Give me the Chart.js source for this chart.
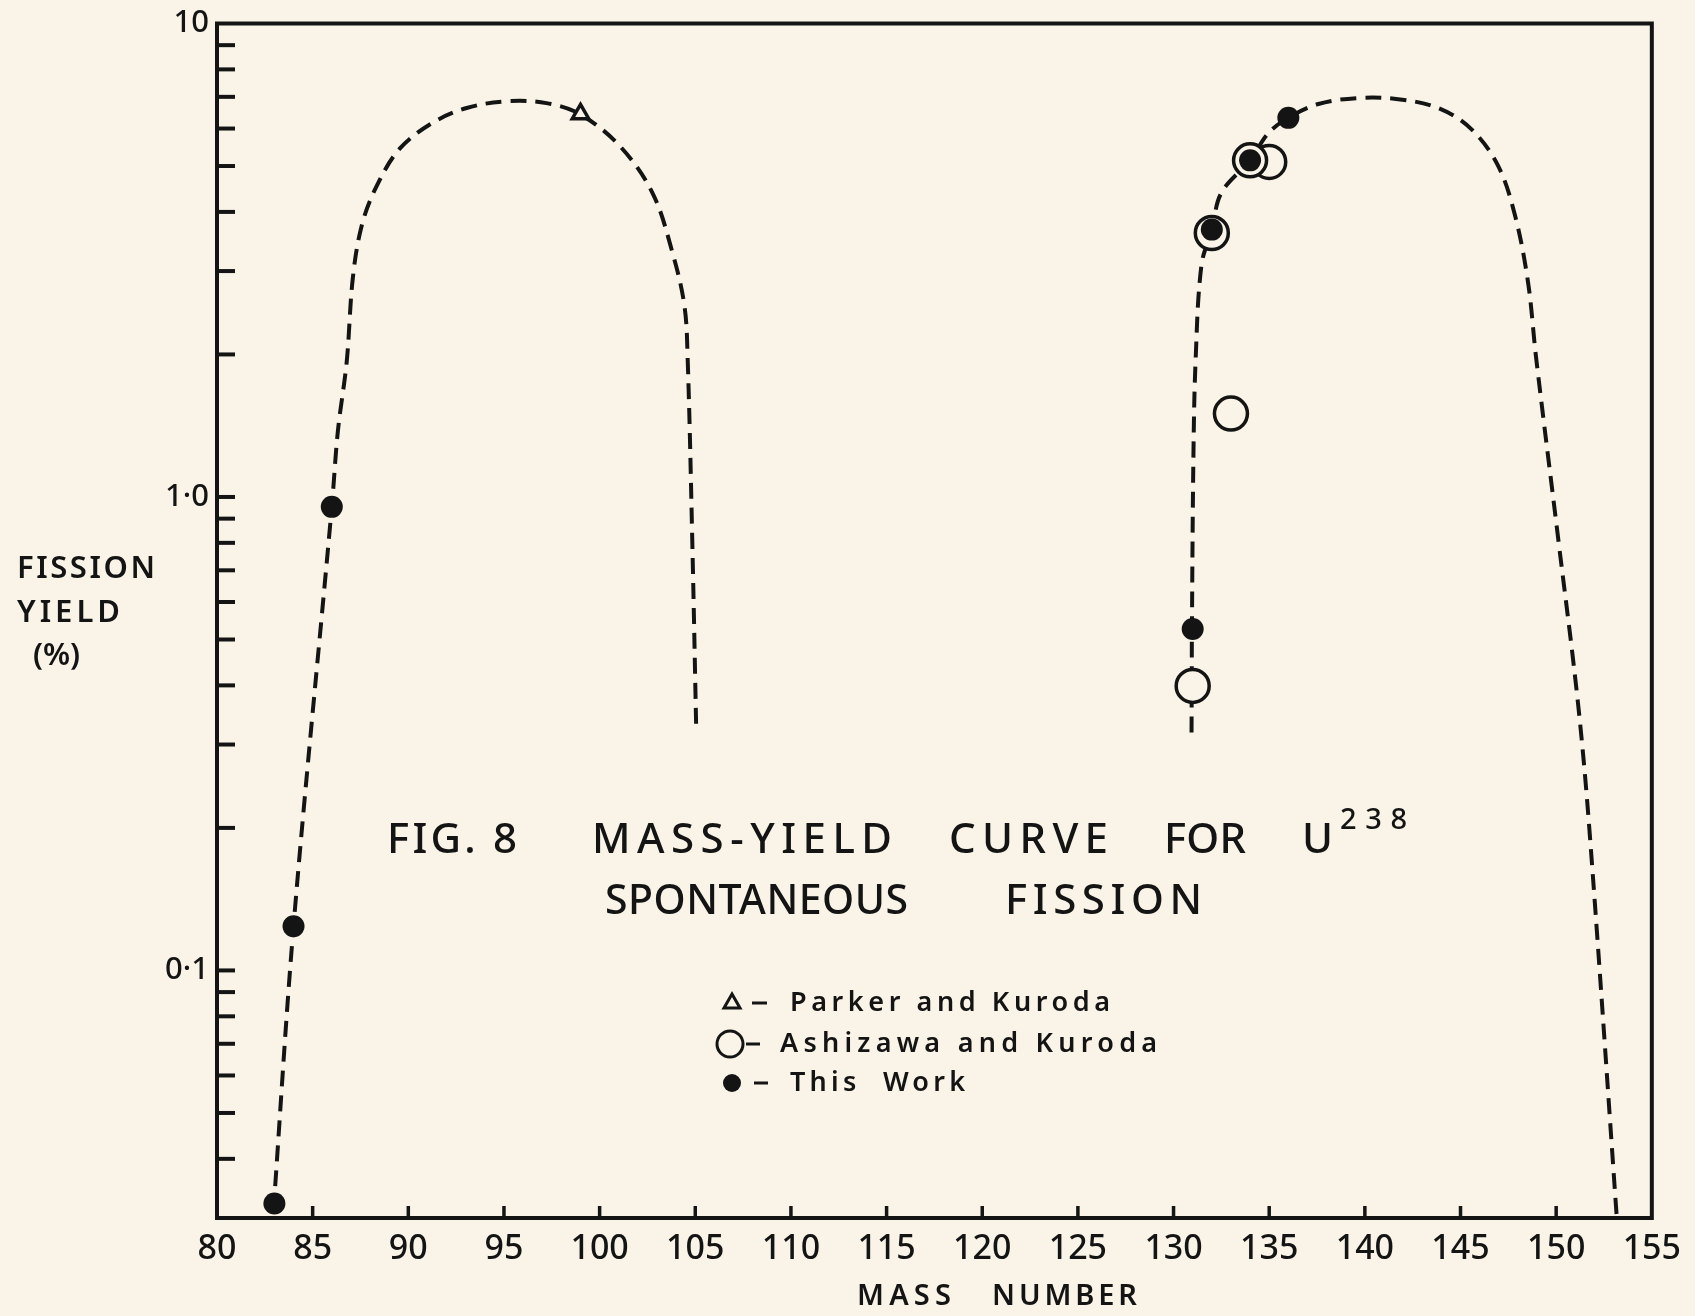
<!DOCTYPE html>
<html>
<head>
<meta charset="utf-8">
<script src="https://cdn.jsdelivr.net/npm/chart.js@4.4.1/dist/chart.umd.min.js"></script>
<style>
  html, body { margin: 0; padding: 0; background: #f9f4e7; }
  #chart { display: block; }
</style>
</head>
<body>
<canvas id="chart" width="1695" height="1316"></canvas>
<script>
const INK = '#141414';
const PAPER = '#f9f4e7';
const FONT = '"Noto Sans", "DejaVu Sans", sans-serif';

// dashed curve through the light fragment peak
const lightCurveMass  = [82.95, 84, 86, 86.32, 86.78, 87.1, 87.57, 88.35, 89.55, 91.27, 93.05, 95.14, 97.22, 98.95, 101.04, 102.76, 103.8, 104.43, 104.6, 104.84, 105.05];
const lightCurveYield = [0.031, 0.124, 0.953, 1.38, 1.93, 2.9, 3.75, 4.54, 5.44, 6.17, 6.63, 6.85, 6.79, 6.44, 5.52, 4.39, 3.29, 2.54, 1.97, 0.82, 0.322];

// dashed curve through the heavy fragment peak
const heavyCurveMass  = [130.94, 130.95, 130.96, 131.04, 131.15, 131.46, 132, 132.5, 134, 134.96, 136, 137.57, 139.65, 141.74, 143.83, 145.55, 146.96, 147.85, 148.53, 148.95, 150.1, 151.14, 151.76, 153.17];
const heavyCurveYield = [0.318, 0.399, 0.526, 1.23, 1.93, 3.09, 3.67, 4.39, 5.14, 5.87, 6.32, 6.76, 6.96, 6.92, 6.63, 5.99, 5.01, 3.93, 2.84, 1.97, 0.82, 0.367, 0.193, 0.03];

const parkerMass = [99];
const parkerYield = [6.44];

const ashizawaMass  = [131, 132, 133, 135, 134];
const ashizawaYield = [0.399, 3.61, 1.50, 5.10, 5.14];

const thisWorkMass  = [83, 84, 86, 131, 132, 134, 136];
const thisWorkYield = [0.0322, 0.124, 0.953, 0.526, 3.67, 5.14, 6.32];

const massTicks = [80, 85, 90, 95, 100, 105, 110, 115, 120, 125, 130, 135, 140, 145, 150, 155];
const yieldMajorTicks = [0.1, 1, 10];
const yieldMarkTicks = [0.04, 0.05, 0.06, 0.07, 0.08, 0.09, 0.1, 0.2, 0.3, 0.4, 0.5, 0.6, 0.7, 0.8, 0.9, 1, 2, 3, 4, 5, 6, 7, 8, 9];
const yieldTickLabels = ['0·1', '1·0', '10'];

const pts = (xs, ys) => xs.map((x, i) => ({ x, y: ys[i] }));

// draw text so that it spans from left to right (hand lettering is wide)
function fitText(ctx, text, left, right, y, size, weight) {
  ctx.font = `${weight} ${size}px ${FONT}`;
  ctx.letterSpacing = '0px';
  ctx.textAlign = 'left';
  ctx.textBaseline = 'middle';
  const natural = ctx.measureText(text).width;
  const n = text.length;
  const s = n > 1 ? (right - left - natural) / (n - 1) : 0;
  ctx.letterSpacing = s.toFixed(2) + 'px';
  ctx.fillText(text, left, y);
  ctx.letterSpacing = '0px';
}

const paperPlugin = {
  id: 'paper',
  beforeDraw(chart) {
    const { ctx, width, height } = chart;
    ctx.save();
    ctx.fillStyle = PAPER;
    ctx.fillRect(0, 0, width, height);
    ctx.restore();
  },
  beforeDatasetsDraw(chart) {
    const { ctx, chartArea: a, scales } = chart;
    ctx.save();
    ctx.strokeStyle = INK;
    ctx.lineCap = 'butt';
    // top and right of the box
    ctx.lineWidth = 4;
    ctx.beginPath();
    ctx.moveTo(a.left - 2, a.top);
    ctx.lineTo(a.right, a.top);
    ctx.lineTo(a.right, a.bottom + 2);
    ctx.stroke();
    // inward ticks
    yieldMarkTicks.forEach((v) => {
      const y = scales.y.getPixelForValue(v);
      ctx.beginPath();
      ctx.moveTo(a.left, y);
      ctx.lineTo(a.left + 18, y);
      ctx.stroke();
    });
    ctx.lineWidth = 3.5;
    massTicks.slice(1, -1).forEach((v) => {
      const x = scales.x.getPixelForValue(v);
      ctx.beginPath();
      ctx.moveTo(x, a.bottom);
      ctx.lineTo(x, a.bottom - 12);
      ctx.stroke();
    });
    ctx.restore();
  },
  afterDraw(chart) {
    const { ctx } = chart;
    ctx.save();
    ctx.fillStyle = INK;
    ctx.strokeStyle = INK;

    // title
    fitText(ctx, 'FIG. 8', 387, 517, 841, 42, 500);
    fitText(ctx, 'MASS-YIELD', 592, 892, 841, 42, 500);
    fitText(ctx, 'CURVE', 949, 1108, 841, 42, 500);
    fitText(ctx, 'FOR', 1164, 1246, 841, 42, 500);
    fitText(ctx, 'U', 1302, 1328, 841, 42, 500);
    fitText(ctx, '238', 1340, 1407, 821, 29, 500);
    fitText(ctx, 'SPONTANEOUS', 605, 908, 902, 41, 500);
    fitText(ctx, 'FISSION', 1005, 1202, 902, 42, 500);

    // axis titles
    fitText(ctx, 'FISSION', 17, 155, 569, 31, 600);
    fitText(ctx, 'YIELD', 17, 120, 613, 31, 600);
    fitText(ctx, '(%)', 33, 80, 656, 31, 600);
    fitText(ctx, 'MASS', 857, 951, 1297, 29, 600);
    fitText(ctx, 'NUMBER', 992, 1137, 1297, 29, 600);

    // legend
    ctx.lineWidth = 3;
    ctx.beginPath();
    ctx.moveTo(732, 994); ctx.lineTo(740, 1008); ctx.lineTo(724, 1008); ctx.closePath();
    ctx.stroke();
    ctx.beginPath();
    ctx.arc(730, 1044, 13, 0, Math.PI * 2);
    ctx.stroke();
    ctx.beginPath();
    ctx.arc(732, 1083, 9, 0, Math.PI * 2);
    ctx.fill();
    ctx.beginPath();
    ctx.moveTo(752, 1003); ctx.lineTo(767, 1003);
    ctx.moveTo(746, 1044); ctx.lineTo(760, 1044);
    ctx.moveTo(754, 1083); ctx.lineTo(768, 1083);
    ctx.stroke();
    fitText(ctx, 'Parker and Kuroda', 790, 1110, 1003, 27, 600);
    fitText(ctx, 'Ashizawa and Kuroda', 780, 1157, 1044, 27, 600);
    fitText(ctx, 'This  Work', 790, 965, 1083, 27, 600);
    ctx.restore();
  }
};

const curveStyle = {
  type: 'line',
  borderColor: INK,
  borderWidth: 4,
  borderDash: [16, 9],
  borderCapStyle: 'butt',
  pointRadius: 0,
  tension: 0.35,
  fill: false,
};

new Chart(document.getElementById('chart'), {
  type: 'scatter',
  data: {
    datasets: [
      {
        label: 'This Work',
        data: pts(thisWorkMass, thisWorkYield),
        pointStyle: 'circle',
        pointRadius: 11,
        backgroundColor: INK,
        borderColor: INK,
        borderWidth: 0,
        clip: false,
      },
      {
        label: 'Ashizawa and Kuroda',
        data: pts(ashizawaMass, ashizawaYield),
        pointStyle: 'circle',
        pointRadius: 16.5,
        backgroundColor: PAPER,
        borderColor: INK,
        borderWidth: 3.5,
        clip: false,
      },
      {
        label: 'Parker and Kuroda',
        data: pts(parkerMass, parkerYield),
        pointStyle: 'triangle',
        pointRadius: 9.5,
        backgroundColor: PAPER,
        borderColor: INK,
        borderWidth: 3.5,
        clip: false,
      },
      { ...curveStyle, label: 'light', data: pts(lightCurveMass, lightCurveYield) },
      { ...curveStyle, label: 'heavy', data: pts(heavyCurveMass, heavyCurveYield) },
    ],
  },
  plugins: [paperPlugin],
  options: {
    responsive: false,
    animation: false,
    layout: { padding: { top: 17, right: 41, bottom: 0, left: 0 } },
    plugins: {
      legend: { display: false },
      tooltip: { enabled: false },
    },
    scales: {
      x: {
        type: 'linear',
        min: 80,
        max: 155,
        afterFit: (scale) => { scale.height = 98; },
        afterBuildTicks: (scale) => { scale.ticks = massTicks.map((v) => ({ value: v })); },
        grid: { display: true, drawOnChartArea: false, drawTicks: false, color: 'rgba(0,0,0,0)' },
        border: { display: true, color: INK, width: 4 },
        ticks: {
          color: INK,
          padding: 14,
          maxRotation: 0,
          autoSkip: false,
          font: { family: FONT, size: 34, weight: 500, lineHeight: 1 },
          callback: (v) => String(v),
        },
      },
      y: {
        type: 'logarithmic',
        min: 0.03,
        max: 10,
        afterFit: (scale) => { scale.width = 217; },
        afterBuildTicks: (scale) => { scale.ticks = yieldMajorTicks.map((v) => ({ value: v })); },
        grid: { display: true, drawOnChartArea: false, drawTicks: false, color: 'rgba(0,0,0,0)' },
        border: { display: true, color: INK, width: 4 },
        ticks: {
          color: INK,
          padding: 8,
          autoSkip: false,
          font: { family: FONT, size: 31, weight: 500, lineHeight: 1 },
          callback: (v) => {
            const i = yieldMajorTicks.findIndex((t) => Math.abs(t - v) < t * 1e-6);
            return i >= 0 ? yieldTickLabels[i] : '';
          },
        },
      },
    },
  },
});
</script>
</body>
</html>
